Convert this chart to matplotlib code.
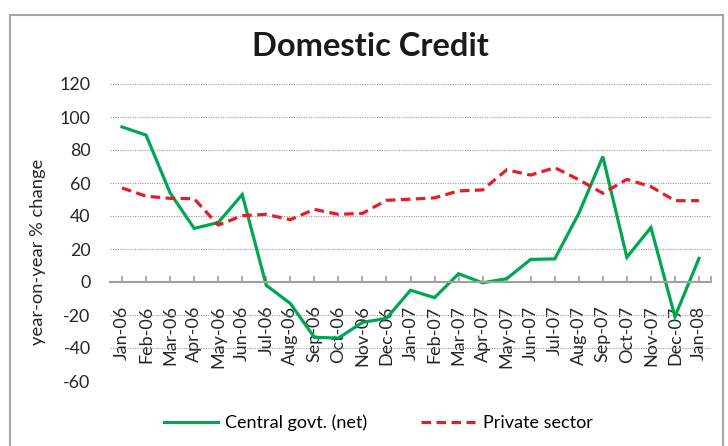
import matplotlib.pyplot as plt
from matplotlib.patches import Rectangle

plt.rcParams['font.family'] = ['Lato', 'DejaVu Sans']

# Datos
months = ["Jan-06", "Feb-06", "Mar-06", "Apr-06", "May-06", "Jun-06", "Jul-06",
          "Aug-06", "Sep-06", "Oct-06", "Nov-06", "Dec-06", "Jan-07", "Feb-07",
          "Mar-07", "Apr-07", "May-07", "Jun-07", "Jul-07", "Aug-07", "Sep-07",
          "Oct-07", "Nov-07", "Dec-07", "Jan-08"]
central_govt = [94, 89, 54, 32.5, 36, 53, -2, -13, -33.5, -34, -24.5, -22, -5,
                -9.5, 5, -0.5, 2, 13.7, 14, 41.5, 76, 15, 33, -21, 14.3]
private_sector = [57, 52, 50.7, 50.5, 34.5, 40.2, 41, 37.8, 44, 41, 41.6, 49.5,
                  50.2, 51, 55.2, 55.8, 68, 64.8, 69.3, 62, 53.8, 62.2, 57.8,
                  49.3, 49.3]
yticks = [-60, -40, -20, 0, 20, 40, 60, 80, 100, 120]

fig = plt.figure(figsize=(7.28, 4.46), dpi=100)
ax = fig.add_axes([110/728, 1 - 381/446, 601/728, 297/446])

# eje x en y=0 (antes de poner etiquetas, porque reinicia los ticks)
for s in ['top', 'right', 'left']:
    ax.spines[s].set_visible(False)
ax.spines['bottom'].set_position(('data', 0))
ax.spines['bottom'].set_color('#A0A0A0')
ax.spines['bottom'].set_linewidth(1.5)

x = list(range(len(months)))
ax.plot(x, central_govt, color='#00A650', lw=2.3, label="Central govt. (net)",
        solid_joinstyle='miter')
ax.plot(x, private_sector, color='#E41E26', lw=2.3, dashes=(3, 1.7),
        label="Private sector")

ax.set_xlim(-0.5, len(months) - 0.5)
ax.set_ylim(-60, 120)
ax.set_yticks(yticks)
ax.set_yticklabels([str(v) for v in yticks], fontsize=12.8, color='#262626')
ax.set_xticks(x)
ax.set_xticklabels(months, rotation=90, fontsize=13, color='#262626')
ax.set_xticks([len(months) - 0.5], minor=True)

ax.grid(axis='y', linestyle=(0, (1, 1.2)), color='#9A9A9A', lw=0.8)
ax.set_axisbelow(True)
ax.tick_params(axis='y', length=0, pad=14)
ax.tick_params(axis='x', which='both', direction='in', length=4.5,
               width=1.2, color='#A0A0A0', pad=17)

fig.text(370/728, 1 - 47/446, "Domestic Credit", fontsize=23.5, fontweight='bold',
         ha='center', va='center', color='#1a1a1a')
fig.text(38/728, 1 - 252/446, "year-on-year % change", rotation=90,
         fontsize=13.2, ha='center', va='center', color='#262626')

fig.legend(loc='center', bbox_to_anchor=(378/728, 1 - 423/446), ncol=2,
           frameon=False, fontsize=13, handlelength=3.0, columnspacing=3.0,
           handletextpad=0.4)

fig.patches.append(Rectangle((10/728, -0.1), 713/728, 1.1 - 15/446,
                             transform=fig.transFigure, fill=False,
                             edgecolor='#A6A6A6', lw=1.5))

fig.savefig("out.png", dpi=100)
